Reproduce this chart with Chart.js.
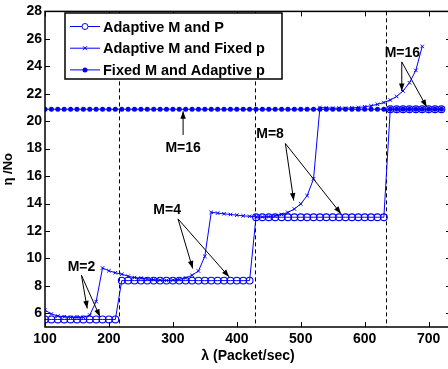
<!DOCTYPE html>
<html lang="en">
<head>
    <meta charset="UTF-8">
    <title>Adaptive M and p</title>
    <script src="https://cdn.jsdelivr.net/npm/chart.js"></script>
    <style>
        html, body { margin: 0; padding: 0; background: #fff; overflow: hidden; }
        #chart { display: block; }
    </style>
</head>
<body>
    <canvas id="chart" width="460" height="369"></canvas>
    <script>
        // lambda (Packet/sec)
        const lambda = [100, 110, 120, 130, 140, 150, 160, 170, 180, 190,
            200, 210, 220, 230, 240, 250, 260, 270, 280, 290,
            300, 310, 320, 330, 340, 350, 360, 370, 380, 390,
            400, 410, 420, 430, 440, 450, 460, 470, 480, 490,
            500, 510, 520, 530, 540, 550, 560, 570, 580, 590,
            600, 610, 620, 630, 640, 650, 660, 670, 680, 690,
            700, 710, 720];

        const adaptiveMP = [5.55, 5.55, 5.55, 5.55, 5.55, 5.55, 5.55, 5.55, 5.55, 5.55,
            5.55, 5.55, 8.38, 8.38, 8.38, 8.38, 8.38, 8.38, 8.38, 8.38,
            8.38, 8.38, 8.38, 8.38, 8.38, 8.38, 8.38, 8.38, 8.38, 8.38,
            8.38, 8.38, 8.38, 13.0, 13.0, 13.0, 13.0, 13.0, 13.0, 13.0,
            13.0, 13.0, 13.0, 13.0, 13.0, 13.0, 13.0, 13.0, 13.0, 13.0,
            13.0, 13.0, 13.0, 13.0, 20.87, 20.87, 20.87, 20.87, 20.87, 20.87,
            20.87, 20.87, 20.87];

        const adaptiveMFixedP = [6.23, 5.95, 5.8, 5.75, 5.7, 5.7, 5.7, 5.87, 6.86, 9.3,
            9.1, 8.95, 8.85, 8.7, 8.6, 8.55, 8.5, 8.45, 8.42, 8.4,
            8.42, 8.47, 8.57, 8.77, 9.08, 10.15, 13.36, 13.3, 13.25, 13.2,
            13.15, 13.1, 13.07, 13.03, 13.02, 13.05, 13.1, 13.2, 13.35, 13.6,
            13.97, 14.57, 15.8, 21.0, 20.97, 20.95, 20.95, 20.95, 20.97, 21.0,
            21.05, 21.12, 21.23, 21.36, 21.54, 21.8, 22.2, 22.8, 23.7, 25.45,
            null, null, null];

        const fixedMAdaptiveP = [20.87, 20.87, 20.87, 20.87, 20.87, 20.87, 20.87, 20.87, 20.87, 20.87,
            20.87, 20.87, 20.87, 20.87, 20.87, 20.87, 20.87, 20.87, 20.87, 20.87,
            20.87, 20.87, 20.87, 20.87, 20.87, 20.87, 20.87, 20.87, 20.87, 20.87,
            20.87, 20.87, 20.87, 20.87, 20.87, 20.87, 20.87, 20.87, 20.87, 20.87,
            20.87, 20.87, 20.87, 20.87, 20.87, 20.87, 20.87, 20.87, 20.87, 20.87,
            20.87, 20.87, 20.87, 20.87, 20.87, 20.87, 20.87, 20.87, 20.87, 20.87,
            20.87, 20.87, 20.87];

        const seriesNames = ['Adaptive M and P', 'Adaptive M and Fixed p', 'Fixed M and Adaptive p'];
        const xTicks = [100, 200, 300, 400, 500, 600, 700];
        const yTicks = [6, 8, 10, 12, 14, 16, 18, 20, 22, 24, 26, 28];
        // switching thresholds (dashed lines)
        const boundaries = [215, 428, 633];

        // labels with arrows: text position, arrow tail, arrow tips (data units)
        const notes = [
            { text: 'M=16', at: [316, 18.0], from: [316, 19.0], to: [[316, 20.72]] },
            { text: 'M=2', at: [157, 9.35], from: [157, 8.77], to: [[166, 6.35], [186, 5.74]] },
            { text: 'M=4', at: [291, 13.5], from: [308, 12.88], to: [[331, 9.26], [388, 8.65]] },
            { text: 'M=8', at: [452, 19.05], from: [476, 18.37], to: [[489, 14.21], [563, 13.25]] },
            { text: 'M=16', at: [659, 24.97], from: [658, 24.32], to: [[658, 22.19], [697, 21.03]] }
        ];

        const blue = '#0000ff';
        const fam = '"Liberation Sans", Arial, sans-serif';

        function pts(ys) {
            return lambda.map((x, i) => ({ x: x, y: ys[i] }));
        }

        function arrow(ctx, x1, y1, x2, y2) {
            ctx.beginPath();
            ctx.moveTo(x1, y1);
            ctx.lineTo(x2, y2);
            ctx.stroke();
            const a = Math.atan2(y2 - y1, x2 - x1);
            const len = 8, w = 0.35;
            ctx.beginPath();
            ctx.moveTo(x2, y2);
            ctx.lineTo(x2 - len * Math.cos(a - w), y2 - len * Math.sin(a - w));
            ctx.lineTo(x2 - len * Math.cos(a + w), y2 - len * Math.sin(a + w));
            ctx.closePath();
            ctx.fill();
        }

        const matlabFrame = {
            id: 'matlabFrame',
            beforeDatasetsDraw(chart) {
                const { ctx, chartArea: a, scales: { x } } = chart;
                ctx.save();
                ctx.strokeStyle = '#000';
                ctx.lineWidth = 1;
                ctx.setLineDash([4, 3]);
                boundaries.forEach(b => {
                    const px = Math.round(x.getPixelForValue(b)) + 0.5;
                    ctx.beginPath();
                    ctx.moveTo(px, a.top);
                    ctx.lineTo(px, a.bottom);
                    ctx.stroke();
                });
                ctx.restore();
            },
            afterDraw(chart) {
                const { ctx, chartArea: a, scales: { x, y } } = chart;
                ctx.save();
                // inward ticks
                ctx.strokeStyle = '#000';
                ctx.lineWidth = 1;
                const tl = 5;
                xTicks.forEach(v => {
                    const px = Math.round(x.getPixelForValue(v)) + 0.5;
                    ctx.beginPath();
                    ctx.moveTo(px, a.bottom); ctx.lineTo(px, a.bottom - tl);
                    ctx.moveTo(px, a.top); ctx.lineTo(px, a.top + tl);
                    ctx.stroke();
                });
                yTicks.forEach(v => {
                    const py = Math.round(y.getPixelForValue(v)) + 0.5;
                    ctx.beginPath();
                    ctx.moveTo(a.left, py); ctx.lineTo(a.left + tl, py);
                    ctx.moveTo(a.right, py); ctx.lineTo(a.right - tl, py);
                    ctx.stroke();
                });
                // box
                ctx.lineWidth = 1.5;
                ctx.strokeRect(a.left, a.top, a.right - a.left, a.bottom - a.top);

                // annotations
                ctx.lineWidth = 1;
                ctx.fillStyle = '#000';
                ctx.font = 'bold 14px ' + fam;
                ctx.textAlign = 'center';
                ctx.textBaseline = 'middle';
                notes.forEach(n => {
                    ctx.fillText(n.text, x.getPixelForValue(n.at[0]), y.getPixelForValue(n.at[1]));
                    const fx = x.getPixelForValue(n.from[0]), fy = y.getPixelForValue(n.from[1]);
                    n.to.forEach(t => arrow(ctx, fx, fy, x.getPixelForValue(t[0]), y.getPixelForValue(t[1])));
                });

                // legend
                const lx = 65, ly = 13, lw = 217, lh = 66;
                ctx.fillStyle = '#fff';
                ctx.fillRect(lx, ly, lw, lh);
                ctx.strokeStyle = '#000';
                ctx.lineWidth = 1.5;
                ctx.strokeRect(lx, ly, lw, lh);
                ctx.font = 'bold 14.5px ' + fam;
                ctx.textAlign = 'left';
                seriesNames.forEach((name, i) => {
                    const ry = ly + 13.5 + i * 21.7;
                    ctx.strokeStyle = blue;
                    ctx.fillStyle = blue;
                    ctx.lineWidth = 1;
                    ctx.beginPath();
                    ctx.moveTo(lx + 5, ry); ctx.lineTo(lx + 35, ry);
                    ctx.stroke();
                    const mx = lx + 20;
                    if (i === 0) {
                        ctx.beginPath(); ctx.arc(mx, ry, 3, 0, Math.PI * 2);
                        ctx.fillStyle = '#fff'; ctx.fill(); ctx.stroke();
                    } else if (i === 1) {
                        ctx.beginPath();
                        ctx.moveTo(mx - 2, ry - 2); ctx.lineTo(mx + 2, ry + 2);
                        ctx.moveTo(mx - 2, ry + 2); ctx.lineTo(mx + 2, ry - 2);
                        ctx.stroke();
                    } else {
                        ctx.beginPath(); ctx.arc(mx, ry, 2.5, 0, Math.PI * 2); ctx.fill();
                    }
                    ctx.fillStyle = '#000';
                    ctx.fillText(name, lx + 38, ry + 1);
                });
                ctx.restore();
            }
        };

        const tickFont = { family: fam, size: 14, weight: 'bold' };

        new Chart(document.getElementById('chart'), {
            type: 'line',
            data: {
                datasets: [{
                    label: seriesNames[0],
                    data: pts(adaptiveMP),
                    borderColor: blue,
                    backgroundColor: 'rgba(0,0,0,0)',
                    borderWidth: 1,
                    pointStyle: 'circle',
                    pointRadius: 3.4,
                    pointBorderWidth: 1.1,
                    pointBorderColor: blue,
                    pointBackgroundColor: 'rgba(0,0,0,0)'
                }, {
                    label: seriesNames[1],
                    data: pts(adaptiveMFixedP),
                    borderColor: blue,
                    borderWidth: 1,
                    pointStyle: 'crossRot',
                    pointRadius: 2.5,
                    pointBorderWidth: 1,
                    pointBorderColor: blue,
                    spanGaps: false
                }, {
                    label: seriesNames[2],
                    data: pts(fixedMAdaptiveP),
                    borderColor: blue,
                    borderWidth: 1,
                    pointStyle: 'circle',
                    pointRadius: 2.5,
                    pointBorderWidth: 0,
                    pointBackgroundColor: blue
                }]
            },
            options: {
                responsive: false,
                animation: false,
                layout: { padding: { top: 10, right: 9, left: 0, bottom: 0 } },
                plugins: {
                    legend: { display: false },
                    tooltip: { enabled: false }
                },
                scales: {
                    x: {
                        type: 'linear',
                        min: 100,
                        max: 735,
                        afterBuildTicks: s => { s.ticks = xTicks.map(v => ({ value: v })); },
                        afterFit: s => { s.height = 42; },
                        grid: { display: false, tickLength: 0 },
                        border: { display: false },
                        ticks: { color: '#000', padding: 4, maxRotation: 0, font: tickFont },
                        title: { display: true, text: 'λ (Packet/sec)', color: '#000', padding: { top: 0, bottom: 4 }, font: tickFont }
                    },
                    y: {
                        min: 5,
                        max: 28,
                        afterBuildTicks: s => { s.ticks = yTicks.map(v => ({ value: v })); },
                        afterFit: s => { s.width = 45; },
                        grid: { display: false, tickLength: 0 },
                        border: { display: false },
                        ticks: { color: '#000', padding: 3, font: tickFont },
                        title: { display: true, text: 'η /No', color: '#000', padding: { top: 1, bottom: 0 }, font: { family: fam, size: 13, weight: 'bold' } }
                    }
                }
            },
            plugins: [matlabFrame]
        });
    </script>
</body>
</html>
